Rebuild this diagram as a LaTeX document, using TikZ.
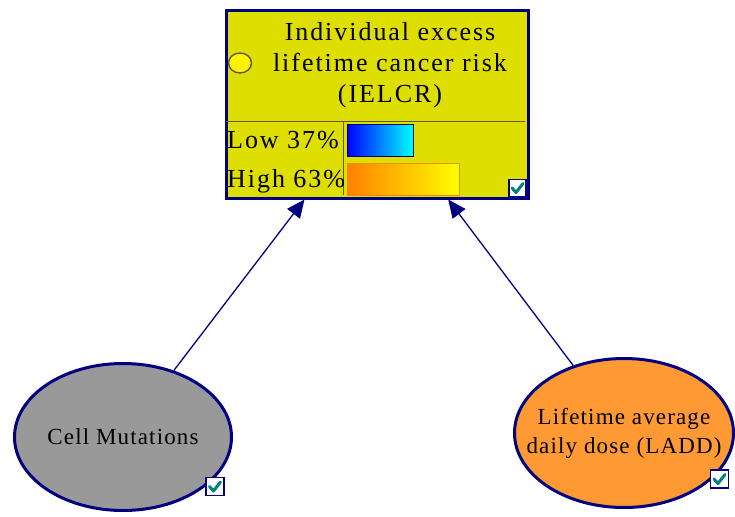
\documentclass[tikz,border=0pt]{standalone}
\usepackage{fontspec}
\usetikzlibrary{shapes.geometric,arrows.meta}
\setmainfont{Liberation Serif}
\newfontfamily\boxfont[LetterSpace=7.5]{Liberation Serif}
\newfontfamily\ovalfont[LetterSpace=5]{Liberation Serif}

\definecolor{netnavy}{RGB}{0,0,128}
\definecolor{boxyellow}{RGB}{222,222,0}
\definecolor{ovalgray}{RGB}{153,153,153}
\definecolor{ovalorange}{RGB}{255,153,51}
\definecolor{checkteal}{RGB}{0,128,128}
\definecolor{divline}{RGB}{90,90,50}
\definecolor{barorange}{RGB}{255,128,0}
\definecolor{baredge}{RGB}{240,140,0}

\tikzset{
  x=1pt, y=-1pt,
  netbox/.style={draw=netnavy, line width=3pt, fill=boxyellow, inner sep=0pt,
    rectangle, anchor=north west},
  netoval/.style={ellipse, draw=netnavy, line width=3pt, inner sep=0pt},
  boxtext/.style={inner sep=0pt, font=\boxfont\fontsize{26}{31}\selectfont, align=center},
  statetext/.style={inner sep=0pt, anchor=base west, font=\boxfont\fontsize{26}{31}\selectfont},
  ovaltext/.style={inner sep=0pt, font=\ovalfont\fontsize{23}{29}\selectfont, align=center},
  divider/.style={draw=divline, line width=1pt},
  link/.style={draw=netnavy, line width=1.3pt, -{Triangle[length=18pt, width=16pt]}},
  chkbox/.style={rectangle, draw=netnavy, fill=white, line width=1.2pt,
    minimum size=17pt, inner sep=0pt},
  chkmark/.pic={
    \draw[checkteal, line width=3pt, line cap=round, line join=round]
      (-5.5,0) -- (-1.5,4.5) -- (5.5,-4.5);
  }
}

\begin{document}
\begin{tikzpicture}
  \useasboundingbox (0,0) rectangle (735,516);
  \fill[white] (0,0) rectangle (735,516);

  % Outcome node with its belief bars
  \node[netbox, minimum width=302pt, minimum height=187pt] (ielcr) at (224.5,9.5) {};
  \draw[divider] (226,121) -- (525,121);
  \draw[divider] (343,121) -- (343,195);
  \node[ellipse, draw=divline, line width=1.4pt, fill=yellow,
        minimum width=23pt, minimum height=20pt, inner sep=0pt] (flag) at (240,63) {};
  \node[boxtext] (title) at (390,65) {Individual excess\\lifetime cancer risk\\(IELCR)};
  \node[statetext] (low) at (227,148) {Low 37\%};
  \node[statetext] (high) at (227,187) {High 63\%};
  \shade[left color=blue, right color=cyan] (347,124) rectangle (413,156);
  \draw[netnavy, line width=0.8pt] (347,124) rectangle (413,156);
  \shade[left color=barorange, right color=yellow] (347,163) rectangle (459,195);
  \draw[baredge, line width=0.8pt] (347,163) rectangle (459,195);
  \node[chkbox] (chkA) at (517.5,188) {};
  \pic at (chkA.center) {chkmark};

  % Parent nodes
  \node[netoval, fill=ovalgray, minimum width=217pt, minimum height=147pt] (cm) at (123,437) {};
  \node[ovaltext] (cmtext) at (cm.center) {Cell Mutations};
  \node[chkbox, minimum size=18pt] (chkB) at (215,486.5) {};
  \pic at (chkB.center) {chkmark};

  \node[netoval, fill=ovalorange, minimum width=219pt, minimum height=149pt] (ladd) at (624,433) {};
  \node[ovaltext] (laddtext) at (624,433) {Lifetime average\\daily dose (LADD)};
  \node[chkbox, minimum size=18pt] (chkC) at (719.5,479) {};
  \pic at (chkC.center) {chkmark};

  % Dependencies
  \draw[link] (cm) -- (ielcr);
  \draw[link] (ladd) -- (ielcr);
\end{tikzpicture}
\end{document}
